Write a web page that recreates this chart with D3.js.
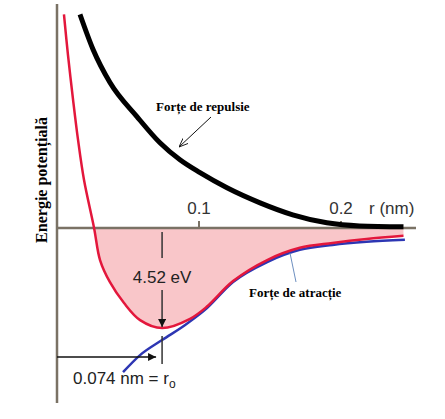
<!DOCTYPE html>
<html><head><meta charset="utf-8">
<script src="https://cdn.jsdelivr.net/npm/d3@7"></script>
<style>body{margin:0;background:#fff}</style>
</head><body><div id="chart"></div>
<script>
// curve data: r in nm, energy in eV
var redR = [0.0049,0.0077,0.0113,0.0148,0.0190,0.0261,0.0303,0.0373,0.0472,0.0585,0.074,0.0937,0.1056,0.124,0.148,0.171,0.194,0.218,0.244];
var redE = [9.63,7.82,5.79,3.98,2.17,0,-1.45,-2.45,-3.39,-4.16,-4.52,-4.10,-3.55,-2.40,-1.45,-0.90,-0.68,-0.50,-0.36];
var blueR = [0.0465,0.0585,0.074,0.090,0.104,0.124,0.148,0.171,0.194,0.218,0.245];
var blueE = [-6.51,-5.74,-5.06,-4.39,-3.71,-2.44,-1.54,-0.99,-0.77,-0.63,-0.54];
var blackR = [0.0162,0.0254,0.0373,0.0563,0.0725,0.0866,0.1007,0.1197,0.143,0.166,0.190,0.213,0.244];
var blackE = [9.63,8.05,6.56,5.02,3.84,3.07,2.49,1.81,1.13,0.59,0.23,0.09,0.05];
var tickVals = [0.1, 0.2];
var r0 = 0.074, eMin = -4.52;

var svg = d3.select("#chart").append("svg").attr("width", 445).attr("height", 419);
var x = d3.scaleLinear().domain([0, 0.25]).range([57, 412]);
var y = d3.scaleLinear().domain([-7.9, 10.1]).range([403, 4]);
var axisCol = "#7a7265";

var defs = svg.append("defs");
defs.append("marker").attr("id", "ah").attr("viewBox", "0 0 10 10").attr("refX", 10).attr("refY", 5)
  .attr("markerWidth", 8).attr("markerHeight", 8).attr("markerUnits", "userSpaceOnUse").attr("orient", "auto")
  .append("path").attr("d", "M0,0L10,5L0,10z").attr("fill", "#111");
defs.append("marker").attr("id", "ah2").attr("viewBox", "0 0 10 10").attr("refX", 10).attr("refY", 5)
  .attr("markerWidth", 9).attr("markerHeight", 9).attr("markerUnits", "userSpaceOnUse").attr("orient", "auto")
  .append("path").attr("d", "M0,1L10,5L0,9").attr("fill", "none").attr("stroke", "#111");

var red = redR.map((r, i) => [r, redE[i]]);
var blue = blueR.map((r, i) => [r, blueE[i]]);
var black = blackR.map((r, i) => [r, blackE[i]]);
var line = d3.line().x(d => x(d[0])).y(d => y(d[1])).curve(d3.curveMonotoneX);
var redLine = d3.line().x(d => x(d[0])).y(d => y(d[1])).curve(d3.curveCatmullRom.alpha(0.5));

// pink well
var well = red.filter(d => d[1] <= 0);
svg.append("path").datum(well)
  .attr("d", d3.area().x(d => x(d[0])).y0(y(0)).y1(d => y(d[1])).curve(d3.curveCatmullRom.alpha(0.5)))
  .attr("fill", "#f9c6c9");

// axes
svg.append("line").attr("x1", x(0)).attr("x2", x(0)).attr("y1", 4).attr("y2", 403)
  .attr("stroke", axisCol).attr("stroke-width", 2.5);
svg.append("line").attr("x1", x(0)).attr("x2", 416).attr("y1", y(0)).attr("y2", y(0))
  .attr("stroke", axisCol).attr("stroke-width", 2.5);
svg.selectAll(".tk").data(tickVals).enter().append("line")
  .attr("x1", d => x(d)).attr("x2", d => x(d)).attr("y1", y(0) - 7).attr("y2", y(0))
  .attr("stroke", axisCol).attr("stroke-width", 2);
svg.selectAll(".tl").data(tickVals).enter().append("text")
  .attr("x", d => x(d)).attr("y", 214).attr("text-anchor", "middle")
  .attr("font-family", "Liberation Sans, Arial").attr("font-size", 17).attr("fill", "#333")
  .text(d => d);
svg.append("text").attr("x", 369).attr("y", 214).attr("font-family", "Liberation Sans, Arial")
  .attr("font-size", 17).attr("fill", "#333").text("r (nm)");

// curves
svg.append("path").datum(black).attr("d", line).attr("fill", "none").attr("stroke", "#000").attr("stroke-width", 5);
svg.append("path").datum(blue).attr("d", line).attr("fill", "none").attr("stroke", "#2d36b3").attr("stroke-width", 2.5);
svg.append("path").datum(red).attr("d", redLine).attr("fill", "none").attr("stroke", "#e3173c").attr("stroke-width", 2.5);

// 4.52 eV marker
svg.append("line").attr("x1", x(r0)).attr("x2", x(r0)).attr("y1", y(0) + 4).attr("y2", 258).attr("stroke", "#333").attr("stroke-width", 1.5);
svg.append("line").attr("x1", x(r0)).attr("x2", x(r0)).attr("y1", 290).attr("y2", y(eMin) - 1)
  .attr("stroke", "#333").attr("stroke-width", 1.5).attr("marker-end", "url(#ah)");
svg.append("text").attr("x", x(r0)).attr("y", 283).attr("text-anchor", "middle")
  .attr("font-family", "Liberation Sans, Arial").attr("font-size", 17).attr("fill", "#222").text("4.52 eV");

// r0 marker
svg.append("line").attr("x1", x(0)).attr("x2", x(r0) - 6).attr("y1", 357).attr("y2", 357)
  .attr("stroke", "#111").attr("stroke-width", 1.5).attr("marker-end", "url(#ah)");
svg.append("line").attr("x1", x(r0)).attr("x2", x(r0)).attr("y1", 336).attr("y2", 364).attr("stroke", "#333").attr("stroke-width", 1.5);
var t0 = svg.append("text").attr("x", 73).attr("y", 384)
  .attr("font-family", "Liberation Sans, Arial").attr("font-size", 17).attr("fill", "#222");
t0.append("tspan").text("0.074 nm = r");
t0.append("tspan").attr("font-size", 12).attr("dy", 4).text("o");

// labels
svg.append("text").attr("x", 156).attr("y", 111).attr("font-family", "Liberation Serif, Times New Roman")
  .attr("font-weight", "bold").attr("font-size", 13).text("Forțe de repulsie");
svg.append("line").attr("x1", 211).attr("y1", 117).attr("x2", 179).attr("y2", 147)
  .attr("stroke", "#111").attr("stroke-width", 1).attr("marker-end", "url(#ah2)");
svg.append("text").attr("x", 249).attr("y", 297).attr("font-family", "Liberation Serif, Times New Roman")
  .attr("font-weight", "bold").attr("font-size", 13).text("Forțe de atracție");
svg.append("line").attr("x1", 296).attr("y1", 282).attr("x2", 290).attr("y2", 253)
  .attr("stroke", "#6d8fc0").attr("stroke-width", 1);
svg.append("text").attr("transform", "translate(47,180) rotate(-90)").attr("text-anchor", "middle")
  .attr("font-family", "Liberation Serif, Times New Roman").attr("font-weight", "bold").attr("font-size", 16)
  .text("Energie potențială");
</script></body></html>
